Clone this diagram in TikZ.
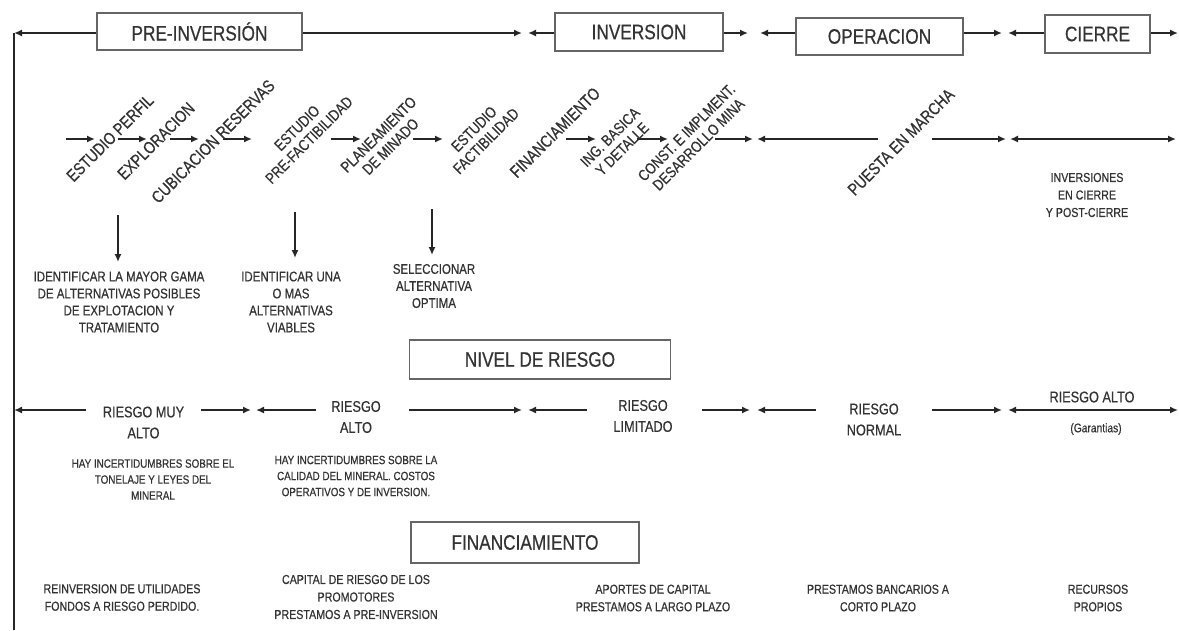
\documentclass[tikz,border=0pt]{standalone}
\usepackage{fontspec}
\setmainfont{Liberation Sans}[FakeStretch=0.82, FakeBold=0.5]
\usetikzlibrary{arrows.meta}
\begin{document}
\begin{tikzpicture}[x=1pt,y=-1pt,
  every node/.style={text=black!80, inner sep=0pt, align=center},
  phase/.style={draw=black!60, line width=1.6pt, font=\fontsize{21}{24}\selectfont},
  conn/.style={draw=black!85, line width=1.9pt},
  arrowend/.style={-{Latex[length=8pt,width=7pt]}},
  bothends/.style={{Latex[length=8pt,width=7pt]}-{Latex[length=8pt,width=7pt]}},
  steplab/.style={rotate=45, font=\fontsize{17}{18}\selectfont},
  steplabtwo/.style={rotate=45, font=\fontsize{15.5}{17}\selectfont},
  desctxt/.style={font=\fontsize{14}{17}\selectfont},
  riesgotxt/.style={font=\fontsize{15.5}{21}\selectfont},
  smalltxt/.style={font=\fontsize{12}{16}\selectfont},
  fintxt/.style={font=\fontsize{13}{17.5}\selectfont},
]
\useasboundingbox (0,0) rectangle (1179,630);
\fill[white] (0,0) rectangle (1179,630);

% ---- phase boxes
\node[phase, minimum width=205pt, minimum height=37pt] (pre) at (199.5,31.5) {PRE-INVERSIÓN};
\node[phase, minimum width=168pt, minimum height=38pt] (inv) at (639,32) {INVERSION};
\node[phase, minimum width=167pt, minimum height=37pt] (oper) at (879.5,36.5) {OPERACION};
\node[phase, minimum width=105pt, minimum height=38pt] (cierre) at (1097.5,34) {CIERRE};

\coordinate (tl) at (14,33);
\coordinate (bl) at (14,630);
\coordinate (j1a) at (522,33); \coordinate (j1b) at (528,33);
\coordinate (j2a) at (748,33); \coordinate (j2b) at (760,33);
\coordinate (j3a) at (1002,33); \coordinate (j3b) at (1008,33);
\coordinate (tr) at (1178,33);

\draw[conn] (tl) -- (bl);
\draw[conn, arrowend] (pre.west |- tl) -- (tl);
\draw[conn, arrowend] (pre.east |- tl) -- (j1a);
\draw[conn, arrowend] (inv.west |- tl) -- (j1b);
\draw[conn, arrowend] (inv.east |- tl) -- (j2a);
\draw[conn, arrowend] (oper.west |- tl) -- (j2b);
\draw[conn, arrowend] (oper.east |- tl) -- (j3a);
\draw[conn, arrowend] (cierre.west |- tl) -- (j3b);
\draw[conn, arrowend] (cierre.east |- tl) -- (tr);

% ---- process row
\foreach \n/\a/\b in {1/66/95, 2/118/147, 3/170/199, 4/223/252, 5/331/361, 6/413/443, 7/566/596, 8/637/668, 9/715/753}{
  \coordinate (ps\n) at (\a,139);
  \coordinate (pe\n) at (\b,139);
  \draw[conn, arrowend] (ps\n) -- (pe\n);
}
\coordinate (pm1) at (878,139); \coordinate (pm0) at (757,139);
\coordinate (pm2) at (932,139); \coordinate (pm3) at (1006,139);
\coordinate (pm4) at (1010,139); \coordinate (pm5) at (1176,139);
\draw[conn, arrowend] (pm1) -- (pm0);
\draw[conn, arrowend] (pm2) -- (pm3);
\draw[conn, bothends] (pm4) -- (pm5);

\node[steplab] (s1) at (110,138) {ESTUDIO PERFIL};
\node[steplab] (s2) at (156,141) {EXPLORACION};
\node[steplab] (s3) at (213,141.5) {CUBICACION RESERVAS};
\node[steplabtwo] (s4) at (303,134) {ESTUDIO\\PRE-FACTIBILIDAD};
\node[steplabtwo] (s5) at (384.5,140.5) {PLANEAMIENTO\\DE MINADO};
\node[steplabtwo] (s6) at (480,135) {ESTUDIO\\FACTIBILIDAD};
\node[steplab] (s7) at (555,132.5) {FINANCIAMIENTO};
\node[steplabtwo] (s8) at (616,143) {ING. BASICA\\Y DETALLE};
\node[steplabtwo] (s9) at (692.5,138.5) {CONST. E IMPLMENT.\\DESARROLLO MINA};
\node[steplab] (s10) at (901,142) {PUESTA EN MARCHA};

\node[fintxt] (invc) at (1087,195) {INVERSIONES\\EN CIERRE\\Y POST-CIERRE};

% ---- down arrows and descriptions
\node[desctxt] (t1) at (119,302) {IDENTIFICAR LA MAYOR GAMA\\DE ALTERNATIVAS POSIBLES\\DE EXPLOTACION Y\\TRATAMIENTO};
\node[desctxt] (t2) at (291,302) {IDENTIFICAR UNA\\O MAS\\ALTERNATIVAS\\VIABLES};
\node[desctxt] (t3) at (434,286) {SELECCIONAR\\ALTERNATIVA\\OPTIMA};
\coordinate (d1) at (118,215); \coordinate (d1e) at (118,262);
\coordinate (d2) at (295,212); \coordinate (d2e) at (295,258);
\coordinate (d3) at (432,209); \coordinate (d3e) at (432,255);
\draw[conn, arrowend] (d1) -- (d1e);
\draw[conn, arrowend] (d2) -- (d2e);
\draw[conn, arrowend] (d3) -- (d3e);

% ---- risk
\node[phase, minimum width=261pt, minimum height=39pt] (nivel) at (540,359.5) {NIVEL DE RIESGO};

\node[riesgotxt] (r1) at (143.5,422.5) {RIESGO MUY\\ALTO};
\node[riesgotxt] (r2) at (356,417) {RIESGO\\ALTO};
\node[riesgotxt] (r3) at (643,416) {RIESGO\\LIMITADO};
\node[riesgotxt] (r4) at (874,419.5) {RIESGO\\NORMAL};
\node[font=\fontsize{15.5}{17}\selectfont] (r5) at (1092,397) {RIESGO ALTO};
\node[font=\fontsize{12.5}{14}\selectfont] (r5g) at (1096,429) {(Garantias)};

\foreach \n/\a/\b in {1/86/14, 2/201/251, 3/316/256, 4/409/522, 5/587/528, 6/702/750, 7/816/757, 8/932/1002}{
  \coordinate (rs\n) at (\a,410);
  \coordinate (re\n) at (\b,410);
  \draw[conn, arrowend] (rs\n) -- (re\n);
}
\coordinate (rb1) at (1008,410); \coordinate (rb2) at (1178,410);
\draw[conn, bothends] (rb1) -- (rb2);

\node[smalltxt] (h1) at (153,479.5) {HAY INCERTIDUMBRES SOBRE EL\\TONELAJE Y LEYES DEL\\MINERAL};
\node[smalltxt] (h2) at (356,476) {HAY INCERTIDUMBRES SOBRE LA\\CALIDAD DEL MINERAL. COSTOS\\OPERATIVOS Y DE INVERSION.};

% ---- financing
\node[phase, minimum width=228pt, minimum height=41pt] (finbox) at (525,542.5) {FINANCIAMIENTO};
\node[fintxt] (f1) at (122,597.5) {REINVERSION DE UTILIDADES\\FONDOS A RIESGO PERDIDO.};
\node[fintxt] (f2) at (356,597) {CAPITAL DE RIESGO DE LOS\\PROMOTORES\\PRESTAMOS A PRE-INVERSION};
\node[fintxt] (f3) at (653,598) {APORTES DE CAPITAL\\PRESTAMOS A LARGO PLAZO};
\node[fintxt] (f4) at (878,598) {PRESTAMOS BANCARIOS A\\CORTO PLAZO};
\node[fintxt] (f5) at (1098,598) {RECURSOS\\PROPIOS};
\end{tikzpicture}
\end{document}
